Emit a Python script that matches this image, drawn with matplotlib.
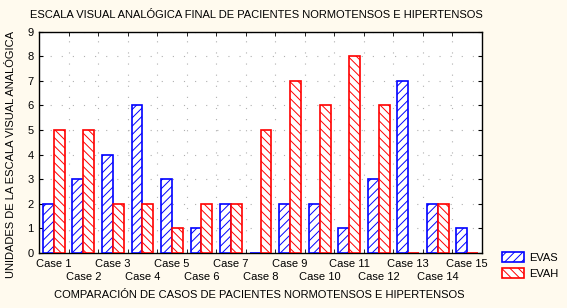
import numpy as np
import matplotlib
matplotlib.use("Agg")
import matplotlib.pyplot as plt
from matplotlib.patches import Patch

plt.rcParams['font.family'] = ['Liberation Sans', 'DejaVu Sans']
plt.rcParams['hatch.linewidth'] = 0.7

# datos
casos = ["Case %d" % i for i in range(1, 16)]
evas = [2, 3, 4, 6, 3, 1, 2, 0, 2, 2, 1, 3, 7, 2, 1]
evah = [5, 5, 2, 2, 1, 2, 2, 5, 7, 6, 8, 6, 0, 2, 0]

fondo = "#fffaee"
fig = plt.figure(figsize=(5.67, 3.08), dpi=100, facecolor=fondo)
ax = fig.add_axes([0.069, 0.179, 0.781, 0.718])
ax.set_facecolor("white")

x = np.arange(len(casos))
w = 0.37
ax.bar(x - w / 2, evas, w, facecolor="white", edgecolor="blue", hatch="////",
       linewidth=1.2, label="EVAS", zorder=3)
ax.bar(x + w / 2, evah, w, facecolor="white", edgecolor="red", hatch="\\\\\\\\",
       linewidth=1.2, label="EVAH", zorder=3)

ax.set_xlim(-0.5, len(casos) - 0.5)
ax.set_ylim(0, 9)
ax.set_yticks(range(10))

# etiquetas escalonadas en dos filas
ax.set_xticks(x)
ax.set_xticklabels([])
ax.tick_params(axis="x", which="major", length=0)
for i, c in enumerate(casos):
    dy = -8 if i % 2 == 0 else -17.5
    ax.annotate(c, xy=(x[i], 0), xycoords=("data", "axes fraction"),
                xytext=(0, dy), textcoords="offset points",
                ha="center", va="center", fontsize=8)
ax.set_xticks(x[:-1] + 0.5, minor=True)
ax.tick_params(axis="x", which="minor", direction="in", length=3, top=True, bottom=True)
ax.tick_params(axis="y", direction="in", length=3, right=True, labelsize=8, pad=4)

for s in ax.spines.values():
    s.set_linewidth(1.0)
    s.set_color("black")

# cuadrícula de puntos
ax.grid(True, axis="y", color="#b0b0b0", linestyle=(0, (1, 9)), linewidth=0.8, zorder=0)
ax.grid(True, axis="x", which="minor", color="#b0b0b0", linestyle=(0, (1, 9)),
        linewidth=0.8, zorder=0)

fig.text(0.452, 0.952, "ESCALA VISUAL ANALÓGICA FINAL DE PACIENTES NORMOTENSOS E HIPERTENSOS",
         ha="center", va="center", fontsize=8)
fig.text(0.457, 0.042, "COMPARACIÓN DE CASOS DE PACIENTES NORMOTENSOS E HIPERTENSOS",
         ha="center", va="center", fontsize=8)
fig.text(0.019, 0.497, "UNIDADES DE LA ESCALA VISUAL ANALÓGICA",
         ha="center", va="center", rotation=90, fontsize=8)

handles = [Patch(facecolor="white", edgecolor="blue", hatch="////", linewidth=1.2, label="EVAS"),
           Patch(facecolor="white", edgecolor="red", hatch="\\\\\\\\", linewidth=1.2, label="EVAH")]
fig.legend(handles=handles, loc="upper left", bbox_to_anchor=(0.875, 0.2), frameon=False,
           fontsize=8, handlelength=2.0, handleheight=1.0, handletextpad=0.5,
           labelspacing=0.5, borderpad=0)

fig.savefig("out.png", dpi=100, facecolor=fondo)
